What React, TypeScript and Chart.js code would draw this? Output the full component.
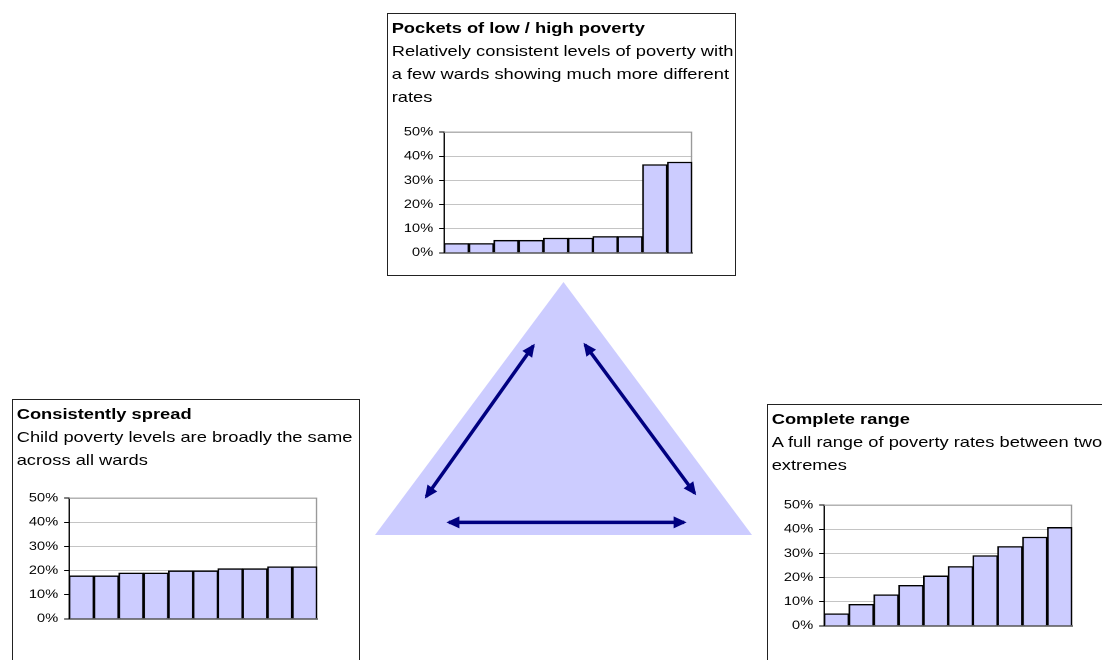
import { useEffect, useRef } from 'react';
import { Chart, registerables } from 'chart.js';

Chart.register(...registerables);

// ward rates (% of children in poverty), ten wards per pattern
const wards = ['W1', 'W2', 'W3', 'W4', 'W5', 'W6', 'W7', 'W8', 'W9', 'W10'];
const pocketsRates = [3.9, 3.9, 5.2, 5.2, 6.1, 6.1, 6.8, 6.8, 36.6, 37.6];
const consistentRates = [17.8, 17.8, 19, 19, 19.9, 19.9, 20.8, 20.8, 21.6, 21.6];
const completeRates = [5, 8.9, 12.9, 16.8, 20.7, 24.6, 29.1, 32.9, 36.8, 40.8];
const percentTicks = [0, 10, 20, 30, 40, 50];

// diagram in the middle (unit square: 0..1 across the triangle's bounding box)
const triangleX = [0, 0.5, 1];
const triangleY = [0, 1, 0];
const arrowLinks = [
  { from: [0.136, 0.152], to: [0.42, 0.748] },
  { from: [0.557, 0.752], to: [0.848, 0.165] },
  { from: [0.196, 0.05], to: [0.82, 0.05] },
];

const FONT = '"Liberation Sans", Arial, sans-serif';
const STRETCH = 1.22; // the source picture is stretched sideways
const AXIS_W = 40;
const PAD_T = 10;
const PAD_B = 10;
const PLOT_LEFT = 56; // page px from the box's inner edge
const PLOT_WIDTH = 248; // page px
const PLOT_H = 125;
const LILAC = '#ccccff';
const NAVY = '#000080';

const frameEdge = {
  id: 'frameEdge',
  beforeDatasetsDraw(chart: Chart) {
    const { ctx, chartArea } = chart;
    ctx.save();
    ctx.strokeStyle = '#9a9a9a';
    ctx.lineWidth = 1;
    ctx.beginPath();
    ctx.moveTo(chartArea.left, chartArea.top);
    ctx.lineTo(chartArea.right - 0.5, chartArea.top);
    ctx.lineTo(chartArea.right - 0.5, chartArea.bottom);
    ctx.stroke();
    ctx.restore();
  },
};

const arrowHeads = {
  id: 'arrowHeads',
  afterDatasetsDraw(chart: Chart) {
    const { ctx } = chart;
    const head = (ex: number, ey: number, fx: number, fy: number) => {
      const ang = Math.atan2(ey - fy, ex - fx);
      const len = 13;
      const half = 6;
      // push the tip a little past the line end so the line is covered
      const tx = ex + 2.5 * Math.cos(ang);
      const ty = ey + 2.5 * Math.sin(ang);
      const bx = tx - len * Math.cos(ang);
      const by = ty - len * Math.sin(ang);
      ctx.beginPath();
      ctx.moveTo(tx, ty);
      ctx.lineTo(bx + half * Math.sin(ang), by - half * Math.cos(ang));
      ctx.lineTo(bx - half * Math.sin(ang), by + half * Math.cos(ang));
      ctx.closePath();
      ctx.fill();
    };
    ctx.save();
    ctx.fillStyle = NAVY;
    chart.data.datasets.forEach((ds: any, i: number) => {
      if (!ds.isArrow) return;
      const pts = chart.getDatasetMeta(i).data;
      const a = pts[0];
      const b = pts[1];
      head(a.x, a.y, b.x, b.y);
      head(b.x, b.y, a.x, a.y);
    });
    ctx.restore();
  },
};

function MiniBarChart({ values, plotTop }: { values: number[]; plotTop: number }) {
  const canvasRef = useRef<HTMLCanvasElement>(null);
  const plotLeft = PLOT_LEFT / STRETCH;
  const plotWidth = PLOT_WIDTH / STRETCH;
  const width = Math.ceil(AXIS_W + plotWidth + 4);
  const height = PAD_T + PLOT_H + PAD_B;

  useEffect(() => {
    if (!canvasRef.current) return;
    const chart = new Chart(canvasRef.current, {
      type: 'bar',
      data: {
        labels: wards,
        datasets: [
          {
            data: values,
            backgroundColor: LILAC,
            borderColor: '#000',
            borderWidth: 1.4,
            barPercentage: 1,
            categoryPercentage: 1,
          },
        ],
      },
      options: {
        animation: false,
        responsive: false,
        devicePixelRatio: 2,
        layout: { padding: { top: PAD_T, bottom: PAD_B, left: 0, right: width - AXIS_W - plotWidth } },
        plugins: { legend: { display: false }, tooltip: { enabled: false } },
        scales: {
          x: {
            type: 'category',
            grid: { display: false },
            ticks: { display: false },
            border: { color: '#000', width: 1 },
            afterFit: (s: any) => {
              s.height = 0;
            },
          },
          y: {
            min: percentTicks[0],
            max: percentTicks[percentTicks.length - 1],
            ticks: {
              stepSize: percentTicks[1] - percentTicks[0],
              callback: (v: any) => `${v}%`,
              color: '#000',
              padding: 5,
              font: { family: FONT, size: 12 },
            },
            grid: {
              color: (c: any) => (c.tick && c.tick.value === 0 ? '#000' : '#c4c4c4'),
              tickColor: '#000',
              tickLength: 4,
              lineWidth: 1,
            },
            border: { color: '#000', width: 1 },
            afterFit: (s: any) => {
              s.width = AXIS_W;
            },
          },
        },
      },
      plugins: [frameEdge],
    });
    return () => chart.destroy();
  }, [values]);

  return (
    <canvas
      ref={canvasRef}
      width={width}
      height={height}
      style={{
        position: 'absolute',
        left: plotLeft - AXIS_W,
        top: plotTop - PAD_T,
        width,
        height,
      }}
    />
  );
}

function Diagram() {
  const canvasRef = useRef<HTMLCanvasElement>(null);
  const width = 377;
  const height = 253;

  useEffect(() => {
    if (!canvasRef.current) return;
    const chart = new Chart(canvasRef.current, {
      type: 'scatter',
      data: {
        datasets: [
          {
            data: triangleX.map((x, i) => ({ x, y: triangleY[i] })),
            showLine: true,
            fill: 'origin',
            backgroundColor: LILAC,
            borderWidth: 0,
            pointRadius: 0,
            clip: false,
            order: 10, // drawn first, under the arrows
          } as any,
          ...arrowLinks.map((a) => ({
            data: [
              { x: a.from[0], y: a.from[1] },
              { x: a.to[0], y: a.to[1] },
            ],
            showLine: true,
            borderColor: NAVY,
            borderWidth: 3.5,
            pointRadius: 0,
            isArrow: true,
            clip: false,
            order: 0,
          })),
        ],
      },
      options: {
        animation: false,
        responsive: false,
        devicePixelRatio: 2,
        layout: { padding: 0 },
        plugins: { legend: { display: false }, tooltip: { enabled: false } },
        scales: {
          x: { type: 'linear', min: 0, max: 1, display: false },
          y: { type: 'linear', min: 0, max: 1, display: false },
        },
      },
      plugins: [arrowHeads],
    });
    return () => chart.destroy();
  }, []);

  return (
    <canvas
      ref={canvasRef}
      width={width}
      height={height}
      style={{ position: 'absolute', left: 375, top: 282, width, height }}
    />
  );
}

interface BoxProps {
  left: number;
  top: number;
  width: number;
  height: number;
  plotTop: number;
  title: string;
  lines: string[];
  values: number[];
}

function PatternBox({ left, top, width, height, plotTop, title, lines, values }: BoxProps) {
  return (
    <div
      style={{
        position: 'absolute',
        left,
        top,
        width,
        height,
        border: '1px solid #222',
        boxSizing: 'border-box',
        background: '#fff',
      }}
    >
      <div
        style={{
          position: 'absolute',
          left: 0,
          top: 0,
          width: (width - 2) / STRETCH,
          height: height - 2,
          transform: `scaleX(${STRETCH})`,
          transformOrigin: '0 0',
        }}
      >
        <div
          style={{
            position: 'absolute',
            left: 3,
            top: 1.5,
            fontSize: 15,
            lineHeight: '23px',
            whiteSpace: 'nowrap',
            color: '#000',
          }}
        >
          <div style={{ fontWeight: 'bold' }}>{title}</div>
          {lines.map((l) => (
            <div key={l}>{l}</div>
          ))}
        </div>
        <MiniBarChart values={values} plotTop={plotTop} />
      </div>
    </div>
  );
}

export default function App() {
  return (
    <div
      style={{
        position: 'absolute',
        left: 0,
        top: 0,
        width: 1102,
        height: 660,
        overflow: 'hidden',
        background: '#fff',
        fontFamily: FONT,
      }}
    >
      <PatternBox
        left={387}
        top={13}
        width={349}
        height={263}
        plotTop={116}
        title="Pockets of low / high poverty"
        lines={[
          'Relatively consistent levels of poverty with',
          'a few wards showing much more different',
          'rates',
        ]}
        values={pocketsRates}
      />
      <PatternBox
        left={12}
        top={399}
        width={348}
        height={300}
        plotTop={96}
        title="Consistently spread"
        lines={['Child poverty levels are broadly the same', 'across all wards']}
        values={consistentRates}
      />
      <PatternBox
        left={767}
        top={404}
        width={400}
        height={300}
        plotTop={97.7}
        title="Complete range"
        lines={['A full range of poverty rates between two', 'extremes']}
        values={completeRates}
      />
      <Diagram />
    </div>
  );
}
